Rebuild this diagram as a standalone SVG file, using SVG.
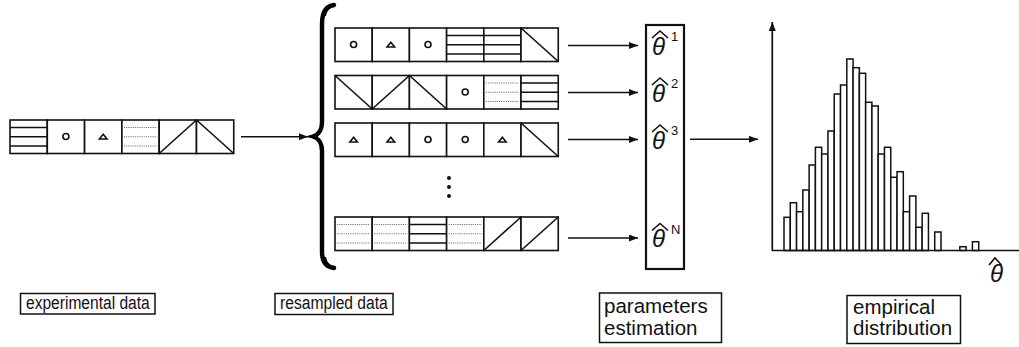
<svg xmlns="http://www.w3.org/2000/svg" xmlns:xlink="http://www.w3.org/1999/xlink" width="1019" height="347" viewBox="0 0 1019 347">
  <style>
    .ln { stroke: #111; stroke-width: 1.6; fill: none; }
    .box { stroke: #111; stroke-width: 1.6; fill: #fff; }
    .dot { stroke: #777; stroke-width: 1; stroke-dasharray: 1.2 1; fill: none; }
    .lbl { font-family: "Liberation Sans", Arial, sans-serif; fill: #111; }
    .th { font-family: "Liberation Sans", Arial, sans-serif; font-style: italic; font-size: 24px; fill: #111; }
    .sup { font-family: "Liberation Sans", Arial, sans-serif; font-size: 13px; fill: #111; }
    .hat { stroke: #111; stroke-width: 1.6; fill: none; stroke-linejoin: miter; }
    .bar { stroke: #111; stroke-width: 1.5; fill: #fff; }
    .arrow { stroke: #111; stroke-width: 1.5; fill: none; marker-end: url(#head); }
  </style>
  <defs>
    <marker id="head" markerUnits="userSpaceOnUse" markerWidth="10" markerHeight="8" refX="9" refY="3.5" orient="auto">
      <path d="M0,0 L9,3.5 L0,7 z" fill="#111"/>
    </marker>
    <!-- data cells, 37.25 x 33.5 -->
    <g id="c-lines">
      <rect class="box" x="0" y="0" width="37.25" height="33.5"/>
      <path class="ln" d="M0,7.5 H37.25 M0,16.75 H37.25 M0,26 H37.25"/>
    </g>
    <g id="c-dots">
      <rect class="box" x="0" y="0" width="37.25" height="33.5"/>
      <path class="dot" d="M2,7.5 H35.25 M2,16.75 H35.25 M2,26 H35.25"/>
    </g>
    <g id="c-circle">
      <rect class="box" x="0" y="0" width="37.25" height="33.5"/>
      <circle class="ln" cx="18.6" cy="16.5" r="3"/>
    </g>
    <g id="c-tri">
      <rect class="box" x="0" y="0" width="37.25" height="33.5"/>
      <polygon class="ln" points="14.8,19 22.4,19 18.6,14.3"/>
    </g>
    <g id="c-slash">
      <rect class="box" x="0" y="0" width="37.25" height="33.5"/>
      <line class="ln" x1="0" y1="33.5" x2="37.25" y2="0"/>
    </g>
    <g id="c-back">
      <rect class="box" x="0" y="0" width="37.25" height="33.5"/>
      <line class="ln" x1="0" y1="0" x2="37.25" y2="33.5"/>
    </g>
  </defs>

  <rect width="1019" height="347" fill="#fff"/>

  <!-- original sample -->
  <g id="experimental-data">
    <use xlink:href="#c-lines" x="10" y="120"/>
    <use xlink:href="#c-circle" x="47.3" y="120"/>
    <use xlink:href="#c-tri" x="84.6" y="120"/>
    <use xlink:href="#c-dots" x="121.9" y="120"/>
    <use xlink:href="#c-slash" x="159.2" y="120"/>
    <use xlink:href="#c-back" x="196.5" y="120"/>
  </g>

  <!-- brace grouping the resamples -->
  <g id="brace">
    <path d="M334,5 C326,6 322,12 322,24 L322,122 C322,130 318,135 313,136.5 C318,138 322,143 322,151 L322,252 C322,262 326,267 334,268" stroke="#000" stroke-width="4.4" fill="none" stroke-linecap="round"/>
    <path d="M335,4 C329,4 324,8 323,16 L326,16 C327,10 331,7 335,7 z" fill="#000"/>
    <path d="M335,269 C329,269 324,265 323,257 L326,257 C327,263 331,266 335,266 z" fill="#000"/>
  </g>

  <g id="resample-1">
    <use xlink:href="#c-circle" x="335" y="28"/>
    <use xlink:href="#c-tri" x="372.2" y="28"/>
    <use xlink:href="#c-circle" x="409.4" y="28"/>
    <use xlink:href="#c-lines" x="446.6" y="28"/>
    <use xlink:href="#c-lines" x="483.8" y="28"/>
    <use xlink:href="#c-back" x="521" y="28"/>
  </g>
  <g id="resample-2">
    <use xlink:href="#c-back" x="335" y="75.5"/>
    <use xlink:href="#c-slash" x="372.2" y="75.5"/>
    <use xlink:href="#c-back" x="409.4" y="75.5"/>
    <use xlink:href="#c-circle" x="446.6" y="75.5"/>
    <use xlink:href="#c-dots" x="483.8" y="75.5"/>
    <use xlink:href="#c-lines" x="521" y="75.5"/>
  </g>
  <g id="resample-3">
    <use xlink:href="#c-tri" x="335" y="123"/>
    <use xlink:href="#c-tri" x="372.2" y="123"/>
    <use xlink:href="#c-circle" x="409.4" y="123"/>
    <use xlink:href="#c-circle" x="446.6" y="123"/>
    <use xlink:href="#c-tri" x="483.8" y="123"/>
    <use xlink:href="#c-back" x="521" y="123"/>
  </g>
  <g id="ellipsis">
    <circle cx="449" cy="178" r="2" fill="#111"/>
    <circle cx="449" cy="187" r="2" fill="#111"/>
    <circle cx="449" cy="196" r="2" fill="#111"/>
  </g>
  <g id="resample-n">
    <use xlink:href="#c-dots" x="335" y="217"/>
    <use xlink:href="#c-dots" x="372.2" y="217"/>
    <use xlink:href="#c-lines" x="409.4" y="217"/>
    <use xlink:href="#c-dots" x="446.6" y="217"/>
    <use xlink:href="#c-slash" x="483.8" y="217"/>
    <use xlink:href="#c-slash" x="521" y="217"/>
  </g>

  <!-- estimates column -->
  <g id="estimates">
    <rect x="646" y="25" width="38" height="244" fill="none" stroke="#111" stroke-width="2.2"/>
    <text class="th" x="652" y="54.5">θ</text>
    <polyline class="hat" points="652,38 660,31 668,38"/>
    <text class="sup" x="671" y="40.5">1</text>
    <text class="th" x="652" y="101.5">θ</text>
    <polyline class="hat" points="652,85 660,78 668,85"/>
    <text class="sup" x="671" y="87.5">2</text>
    <text class="th" x="652" y="148.5">θ</text>
    <polyline class="hat" points="652,132 660,125 668,132"/>
    <text class="sup" x="671" y="134.5">3</text>
    <text class="th" x="652" y="247">θ</text>
    <polyline class="hat" points="652,230.5 660,223.5 668,230.5"/>
    <text class="sup" x="671" y="233.5">N</text>
  </g>

  <!-- histogram of the estimates -->
  <g id="histogram">
    <g class="bars">
      <rect class="bar" x="784" y="217.3" width="6.28" height="33.2"/>
      <rect class="bar" x="790.28" y="202.7" width="6.28" height="47.8"/>
      <rect class="bar" x="796.56" y="211.7" width="6.28" height="38.8"/>
      <rect class="bar" x="802.84" y="190" width="6.28" height="60.5"/>
      <rect class="bar" x="809.12" y="165" width="6.28" height="85.5"/>
      <rect class="bar" x="815.4" y="147.3" width="6.28" height="103.2"/>
      <rect class="bar" x="821.68" y="154" width="6.28" height="96.5"/>
      <rect class="bar" x="827.96" y="131" width="6.28" height="119.5"/>
      <rect class="bar" x="834.24" y="94" width="6.28" height="156.5"/>
      <rect class="bar" x="840.52" y="85" width="6.28" height="165.5"/>
      <rect class="bar" x="846.8" y="59" width="6.28" height="191.5"/>
      <rect class="bar" x="853.08" y="67.7" width="6.28" height="182.8"/>
      <rect class="bar" x="859.36" y="73.3" width="6.28" height="177.2"/>
      <rect class="bar" x="865.64" y="102.3" width="6.28" height="148.2"/>
      <rect class="bar" x="871.92" y="106" width="6.28" height="144.5"/>
      <rect class="bar" x="878.2" y="154" width="6.28" height="96.5"/>
      <rect class="bar" x="884.48" y="147.3" width="6.28" height="103.2"/>
      <rect class="bar" x="890.76" y="177.3" width="6.28" height="73.2"/>
      <rect class="bar" x="897.04" y="171.7" width="6.28" height="78.8"/>
      <rect class="bar" x="903.32" y="211.7" width="6.28" height="38.8"/>
      <rect class="bar" x="909.6" y="196" width="6.28" height="54.5"/>
      <rect class="bar" x="915.88" y="227.3" width="6.28" height="23.2"/>
      <rect class="bar" x="922.16" y="213.3" width="6.28" height="37.2"/>
      <rect class="bar" x="934.72" y="232" width="6.28" height="18.5"/>
      <rect class="bar" x="959.84" y="246.7" width="6.28" height="3.8"/>
      <rect class="bar" x="972.4" y="241.7" width="6.28" height="8.8"/>
    </g>
    <line x1="772.3" y1="250.5" x2="1019" y2="250.5" stroke="#111" stroke-width="1.7"/>
    <line x1="772.3" y1="251" x2="772.3" y2="22" stroke="#111" stroke-width="1.7" marker-end="url(#head)"/>
    <text class="th" x="990" y="281.5">θ</text>
    <polyline class="hat" points="989,265 995,258 1001.5,265"/>
  </g>

  <!-- connectors -->
  <g id="connectors">
    <line class="arrow" x1="241" y1="136.7" x2="308" y2="136.7"/>
    <line class="arrow" x1="568" y1="45.5" x2="638" y2="45.5"/>
    <line class="arrow" x1="568" y1="92.5" x2="638" y2="92.5"/>
    <line class="arrow" x1="568" y1="139.5" x2="638" y2="139.5"/>
    <line class="arrow" x1="568" y1="238" x2="638" y2="238"/>
    <line class="arrow" x1="690" y1="139.3" x2="758" y2="139.3"/>
  </g>

  <!-- captions; the single-line ones use a narrowed face -->
  <g id="label-experimental">
    <rect x="20.5" y="293.5" width="134.5" height="20.5" fill="none" stroke="#111" stroke-width="1.5"/>
    <text class="lbl" transform="translate(26,309.3) scale(0.82,1)" font-size="19">experimental data</text>
  </g>
  <g id="label-resampled">
    <rect x="275" y="293.5" width="118" height="21" fill="none" stroke="#111" stroke-width="1.5"/>
    <text class="lbl" transform="translate(280,309.3) scale(0.824,1)" font-size="19">resampled data</text>
  </g>
  <g id="label-estimation">
    <rect x="599.5" y="293" width="122" height="49.5" fill="none" stroke="#111" stroke-width="1.5"/>
    <text class="lbl" x="604" y="313" font-size="20.5">parameters</text>
    <text class="lbl" x="604" y="334.5" font-size="20.5">estimation</text>
  </g>
  <g id="label-distribution">
    <rect x="847" y="295.5" width="113.5" height="48" fill="none" stroke="#111" stroke-width="1.5"/>
    <text class="lbl" x="853" y="313.5" font-size="20.5">empirical</text>
    <text class="lbl" x="853" y="335" font-size="20.5">distribution</text>
  </g>
</svg>
